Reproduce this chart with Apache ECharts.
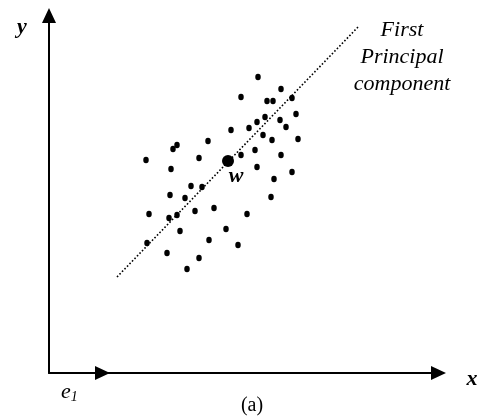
<!DOCTYPE html>
<html>
<head>
<meta charset="utf-8">
<script src="https://cdn.jsdelivr.net/npm/echarts@6/dist/echarts.min.js"></script>
<style>
html,body{margin:0;padding:0;background:#fff;}
#c{width:487px;height:420px;}
</style>
</head>
<body>
<div id="c"></div>
<script>
// Sample points (chart units)
var pointsX = [209,232,192,218,224,243,247,216,208,231,200,237,182,214,223,249,159,128,124,206,192,232,150,97,122,208,243,225,142,153,121,136,222,165,146,128,100,120,198,177,131,160,98,189,118,150,138];
var pointsY = [296,284,276,272,272,275,259,256,251,253,245,246,243,238,233,234,232,228,224,223,218,218,215,213,204,206,201,194,187,186,178,175,176,165,162,158,159,155,159,144,142,133,130,128,120,115,104];
// Mean point w
var meanX = [179];
var meanY = [212];
// First principal component line endpoints
var pcX = [68, 310];
var pcY = [96, 347];
// Basis vector e1
var e1X = [0, 53.5];
var e1Y = [0, 0];
var labels = { pc: 'First\nPrincipal\ncomponent', w: 'w', x: 'x', y: 'y', e: 'e', sub: '1', cap: '(a)' };

var serif = '"Liberation Serif", "Times New Roman", serif';
var chart = echarts.init(document.getElementById('c'));
var pts = pointsX.map(function (x, i) { return [x, pointsY[i]]; });
var axisLine = { show: true, symbol: ['none', 'triangle'], symbolSize: [14, 15], lineStyle: { color: '#000', width: 2 } };
chart.setOption({
  animation: false,
  grid: { left: 49, right: 48.5, top: 15.5, bottom: 47 },
  xAxis: { type: 'value', min: 0, max: 389.5, axisLine: axisLine, axisTick: { show: false }, axisLabel: { show: false }, splitLine: { show: false } },
  yAxis: { type: 'value', min: 0, max: 357.5, axisLine: axisLine, axisTick: { show: false }, axisLabel: { show: false }, splitLine: { show: false } },
  series: [
    {
      type: 'line', data: pcX.map(function (x, i) { return [x, pcY[i]]; }),
      showSymbol: false, silent: true,
      lineStyle: { color: '#000', width: 1.6, type: [1.6, 2] }
    },
    {
      type: 'scatter', data: pts, symbol: 'circle', symbolSize: [5.5, 6.5],
      itemStyle: { color: '#000', opacity: 1 }, silent: true
    },
    {
      type: 'scatter', data: meanX.map(function (x, i) { return [x, meanY[i]]; }), symbolSize: 12,
      itemStyle: { color: '#000', opacity: 1 }, silent: true,
      label: { show: true, formatter: labels.w, position: 'inside', offset: [8, 15], color: '#000',
               fontFamily: serif, fontStyle: 'italic', fontWeight: 'bold', fontSize: 22 }
    },
    {
      type: 'line', data: [], silent: true,
      markLine: {
        silent: true, symbol: ['none', 'triangle'], symbolSize: [14, 15],
        label: { show: false },
        lineStyle: { color: '#000', width: 2, type: 'solid' },
        data: [[{ coord: [e1X[0], e1Y[0]] }, { coord: [e1X[1], e1Y[1]] }]]
      }
    }
  ],
  graphic: [
    { type: 'text', x: 402, y: 17, style: { text: labels.pc, fill: '#000', font: 'italic 22px ' + serif, align: 'center', verticalAlign: 'top', lineHeight: 27 } },
    { type: 'text', x: 22, y: 27, style: { text: labels.y, fill: '#000', font: 'italic bold 22px ' + serif, align: 'center', verticalAlign: 'middle' } },
    { type: 'text', x: 472, y: 379, style: { text: labels.x, fill: '#000', font: 'italic bold 22px ' + serif, align: 'center', verticalAlign: 'middle' } },
    { type: 'text', x: 252, y: 406, style: { text: labels.cap, fill: '#000', font: '20px ' + serif, align: 'center', verticalAlign: 'middle' } },
    { type: 'text', x: 61, y: 392, style: { text: '{e|' + labels.e + '}{s|' + labels.sub + '}', align: 'left', verticalAlign: 'middle',
        rich: { e: { fill: '#000', font: 'italic 22px ' + serif }, s: { fill: '#000', font: 'italic 14px ' + serif, padding: [11, 0, 0, 0] } } } }
  ]
});
</script>
</body>
</html>
